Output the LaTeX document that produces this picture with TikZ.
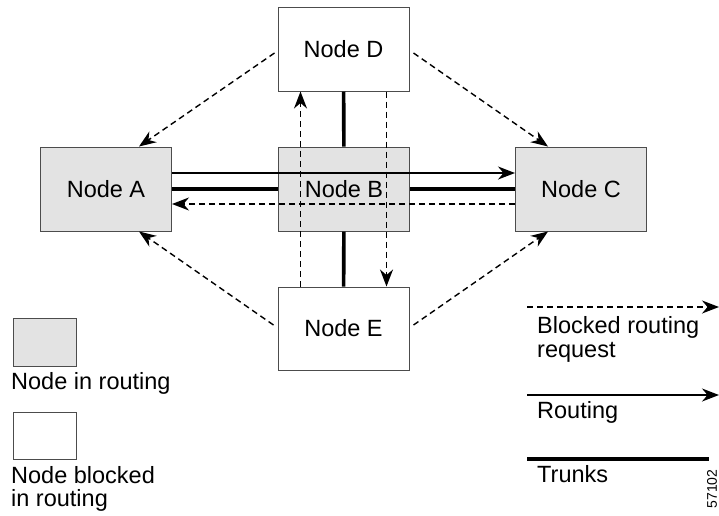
\documentclass[tikz,border=0pt]{standalone}
\usepackage{fontspec}
\setmainfont{Liberation Sans}
\usetikzlibrary{arrows.meta}
\begin{document}
\begin{tikzpicture}[x=1pt,y=-1pt,
  nodebox/.style={draw=black!70, line width=1pt, minimum width=131pt,
    minimum height=84pt, inner sep=0pt, font=\fontsize{23.5}{28}\selectfont},
  active/.style={nodebox, fill=black!11},
  idle/.style={nodebox, fill=white},
  tipped/.style={-{Stealth[length=17pt,width=13pt,inset=5.5pt]}},
  blocked/.style={tipped, line width=1.4pt, dash pattern=on 6pt off 4pt},
  routing/.style={tipped, line width=1.4pt},
  trunk/.style={line width=3.6pt},
  legendtext/.style={anchor=base west, inner sep=0pt,
    font=\fontsize{23.5}{28}\selectfont}
]
\useasboundingbox (0,0) rectangle (719,515);

% network nodes
\node[active] (A) at (106,189) {Node A};
\node[active] (B) at (344,189) {Node B};
\node[active] (C) at (581,189) {Node C};
\node[idle]   (D) at (343.5,49) {Node D};
\node[idle, minimum height=83pt] (E) at (343.5,328.5) {Node E};

% trunks
\draw[trunk] (A) -- (B);
\draw[trunk] (B) -- (C);
\draw[trunk] (D) -- (B);
\draw[trunk] (B) -- (E);

% routing through B
\draw[routing] ([yshift=16pt]A.east) -- ([yshift=16pt]C.west);

% blocked routing requests
\draw[blocked] ([yshift=-15pt]C.west) -- ([yshift=-15pt]A.east);
\draw[blocked] ([xshift=-43pt]E.north) -- ([xshift=-43pt]D.south);
\draw[blocked] ([xshift=43pt]D.south) -- ([xshift=43pt]E.north);
\draw[blocked] ([shift={(-3pt,-4pt)}]D.west) -- ([xshift=33pt]A.north);
\draw[blocked] ([shift={(4pt,-4pt)}]D.east) -- ([xshift=-33pt]C.north);
\draw[blocked] ([shift={(-4pt,3.5pt)}]E.west) -- ([xshift=33pt]A.south);
\draw[blocked] ([shift={(4pt,3.5pt)}]E.east) -- ([xshift=-33pt]C.south);

% legend: node states
\node[draw=black!70, line width=1pt, fill=black!11, minimum width=63pt,
  minimum height=48pt, inner sep=0pt] (kA) at (44.5,342) {};
\node[legendtext] (tA) at (11,389) {Node in routing};
\node[draw=black!70, line width=1pt, fill=white, minimum width=63pt,
  minimum height=47pt, inner sep=0pt] (kB) at (44.5,435.5) {};
\node[legendtext] (tB1) at (11,483) {Node blocked};
\node[legendtext] (tB2) at (11,506) {in routing};

% legend: connector types
\coordinate (l1s) at (527,307);
\coordinate (l1e) at (719,307);
\draw[blocked] (l1s) -- (l1e);
\node[legendtext] (t1a) at (537,333) {Blocked routing};
\node[legendtext] (t1b) at (537,357) {request};

\coordinate (l2s) at (527,395);
\coordinate (l2e) at (719,395);
\draw[routing] (l2s) -- (l2e);
\node[legendtext] (t2) at (537,418) {Routing};

\coordinate (l3s) at (527,459);
\coordinate (l3e) at (709,459);
\draw[trunk] (l3s) -- (l3e);
\node[legendtext] (t3) at (537,482) {Trunks};

% figure number
\node[rotate=90, inner sep=0pt, font=\fontsize{14}{16}\selectfont] (fig) at (712,489) {57102};
\end{tikzpicture}
\end{document}
